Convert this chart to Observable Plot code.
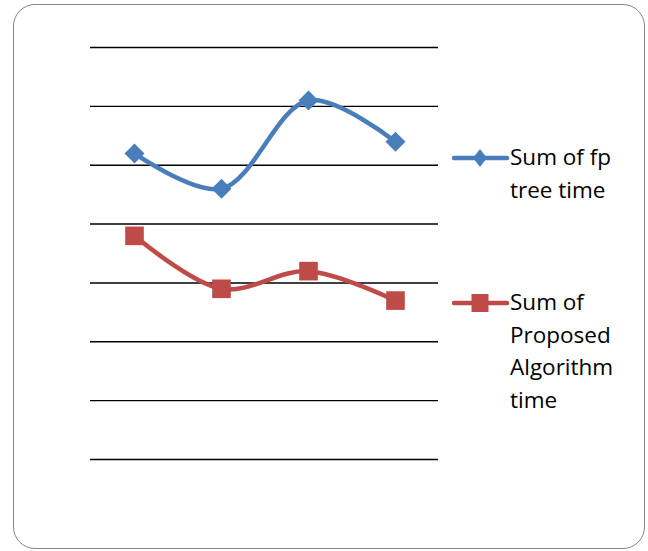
<!DOCTYPE html>
<html>
<head>
<meta charset="utf-8">
<script src="https://cdn.jsdelivr.net/npm/d3@7"></script>
<script src="https://cdn.jsdelivr.net/npm/@observablehq/plot@0.6"></script>
<style>
  html, body { margin: 0; padding: 0; background: #fff; }
  #wrap { position: relative; width: 648px; height: 551px; overflow: hidden; }
  #frame { position: absolute; left: 13px; top: 4px; width: 632px; height: 545px;
           box-sizing: border-box; border: 1.6px solid #868686; border-radius: 22px; }
  #chart { position: absolute; left: 0; top: 0; }
  .leg { position: absolute; left: 452px; font-family: "Open Sans", sans-serif;
         font-size: 22.5px; line-height: 32.5px; color: #000; }
  .leg svg { position: absolute; left: 0; }
  .leg .txt { position: absolute; left: 58px; white-space: nowrap; }
</style>
</head>
<body>
<div id="wrap">
  <div id="frame"></div>
  <div id="chart"></div>
  <div id="legend"></div>
</div>
<script>
const categories = [1, 2, 3, 4];
const fpTreeTime = [5.2, 4.6, 6.1, 5.4];
const proposedTime = [3.8, 2.9, 3.2, 2.7];
const gridValues = [0, 1, 2, 3, 4, 5, 6, 7];
const seriesNames = ["Sum of fp tree time", "Sum of Proposed Algorithm time"];
const legendLines = [["Sum of fp", "tree time"], ["Sum of", "Proposed", "Algorithm", "time"]];
const colors = ["#4a7ebb", "#be4b48"];

const blue = categories.map((c, i) => ({x: c, y: fpTreeTime[i]}));
const red = categories.map((c, i) => ({x: c, y: proposedTime[i]}));

const chart = Plot.plot({
  width: 648,
  height: 551,
  marginLeft: 90,
  marginRight: 210,
  marginTop: 47,
  marginBottom: 92,
  x: {type: "point", domain: categories, padding: 0.5, axis: null},
  y: {domain: [0, 7], axis: null},
  marks: [
    Plot.ruleY(gridValues, {stroke: "#000", strokeWidth: 1.4}),
    Plot.line(blue, {x: "x", y: "y", stroke: colors[0], strokeWidth: 4.5, curve: "catmull-rom"}),
    Plot.dot(blue, {x: "x", y: "y", symbol: "diamond2", r: 9, fill: colors[0], stroke: "none"}),
    Plot.line(red, {x: "x", y: "y", stroke: colors[1], strokeWidth: 4.5, curve: "catmull-rom"}),
    Plot.dot(red, {x: "x", y: "y", symbol: "square", r: 10.5, fill: colors[1], stroke: "none"})
  ]
});
document.getElementById("chart").appendChild(chart);

// legend
const legend = document.getElementById("legend");
const legTops = [133, 278];
seriesNames.forEach((name, i) => {
  const d = document.createElement("div");
  d.className = "leg";
  d.style.top = legTops[i] + "px";
  const marker = i === 0
    ? `<path d="M28,16 L35,25 L28,34 L21,25 Z" fill="${colors[0]}"/>`
    : `<rect x="19.5" y="16" width="17" height="18" fill="${colors[1]}"/>`;
  d.innerHTML = `<svg width="58" height="50" style="top:0"><line x1="2" y1="25" x2="55" y2="25" stroke="${colors[i]}" stroke-width="4.5" stroke-linecap="round"/>${marker}</svg>` +
    `<div class="txt" style="top:8px">${legendLines[i].join("<br>")}</div>`;
  legend.appendChild(d);
});
</script>
</body>
</html>
